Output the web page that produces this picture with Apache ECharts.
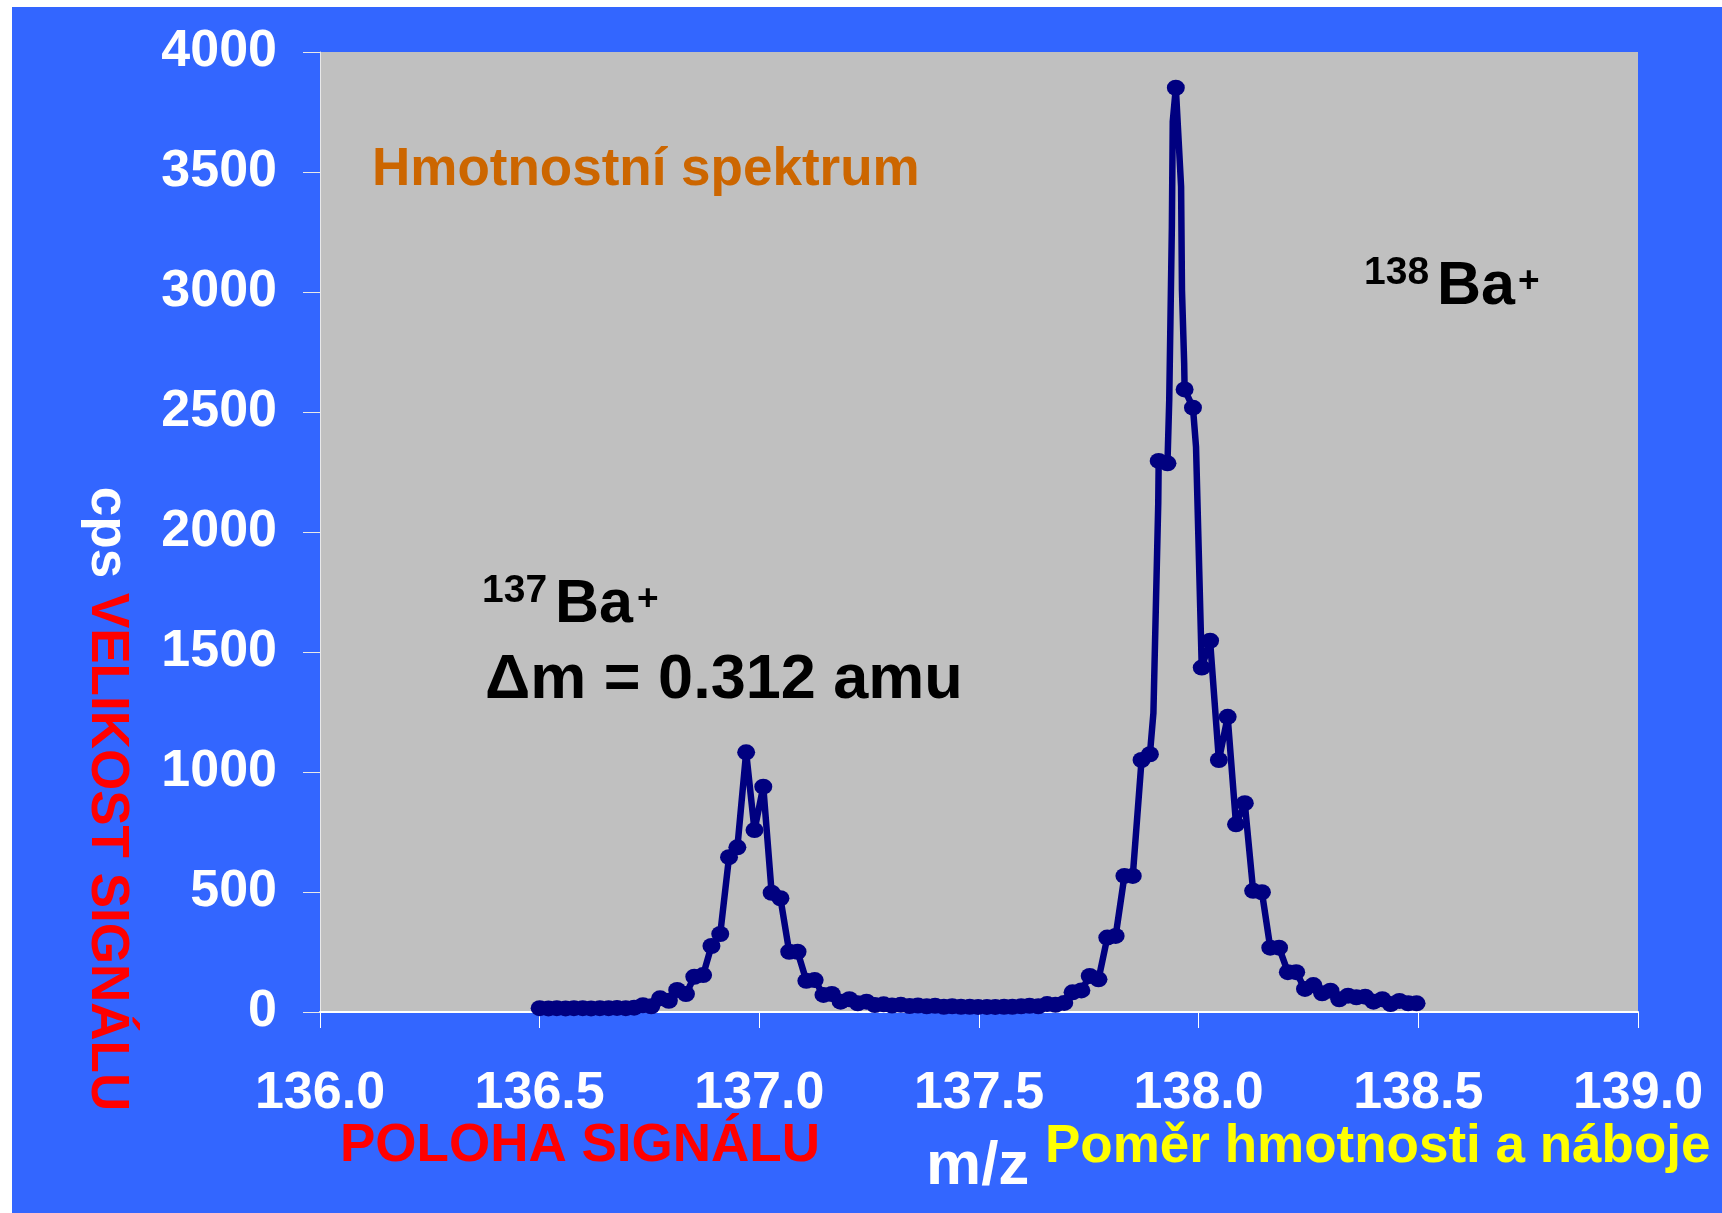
<!DOCTYPE html>
<html><head><meta charset="utf-8">
<script src="https://cdn.jsdelivr.net/npm/echarts@6/dist/echarts.min.js"></script>
<style>html,body{margin:0;padding:0;background:#fff;overflow:hidden}
#c{position:absolute;left:12px;top:7px;width:1710px;height:1206px}</style>
</head><body><div id="c"></div>
<script>
// measured points (markers): m/z and cps
const mz = [136.500,136.520,136.539,136.559,136.578,136.598,136.617,136.637,136.657,136.676,
136.696,136.715,136.735,136.754,136.774,136.794,136.813,136.833,136.852,136.872,
136.891,136.911,136.931,136.950,136.970,136.989,137.009,137.028,137.048,137.068,
137.087,137.107,137.126,137.146,137.165,137.185,137.205,137.224,137.244,137.263,
137.283,137.302,137.322,137.342,137.361,137.381,137.400,137.420,137.439,137.459,
137.479,137.498,137.518,137.537,137.557,137.576,137.596,137.615,137.635,137.655,
137.674,137.694,137.713,137.733,137.752,137.772,137.792,137.811,137.831,137.850,
137.870,137.889,137.909,137.929,137.948,137.968,137.987,138.007,138.026,138.046,
138.066,138.085,138.105,138.124,138.144,138.163,138.183,138.203,138.222,138.242,
138.261,138.281,138.300,138.320,138.340,138.359,138.379,138.398,138.418,138.437,
138.457,138.477,138.496];
const cps = [16,15,16,15,16,16,15,16,16,17,
16,18,28,24,57,47,92,75,147,154,
275,325,645,686,1082,758,939,497,474,251,
251,130,133,71,75,43,53,36,43,29,
32,27,30,25,27,24,26,22,24,22,
22,21,21,21,22,22,24,26,24,33,
30,38,82,90,150,136,310,317,567,567,
1050,1074,2296,2286,3851,2594,2518,1435,1547,1050,
1230,782,870,505,499,268,268,166,166,96,
112,78,89,53,68,61,64,43,53,33,
46,36,36];
// extra vertices of the drawn profile line (no markers)
const lineOnlyMz  = [137.897,137.908,137.933,137.939,137.941,137.960,137.962,137.967,137.994,138.005];
const lineOnlyCps = [1246,2120,2549,3272,3710,3439,3008,2704,2355,1578];
const yTicks = {min:0, max:4000, step:500};
const xTicks = {min:136, max:139, step:0.5};

const OX = 12, OY = 7;
const FF = "'Liberation Sans', Arial, sans-serif";
const markers = mz.map((x,i)=>[x,cps[i]]);
const lineData = markers.concat(lineOnlyMz.map((x,i)=>[x,lineOnlyCps[i]])).sort((a,b)=>a[0]-b[0]);

function txt(x, y, text, fs, color, extra) {
  return {
    type:'text', x:x-OX, y:y-OY, silent:true, z:100,
    style:Object.assign({text:text, fill:color, fontSize:fs, fontWeight:'bold', fontFamily:FF,
      align:'left', verticalAlign:'middle'}, extra||{})
  };
}
const shadow = {textShadowColor:'#A8A8A8', textShadowOffsetX:3, textShadowOffsetY:3, textShadowBlur:0};

const chart = echarts.init(document.getElementById('c'), null, {renderer:'canvas'});
chart.setOption({
  animation:false,
  backgroundColor:'#3366FF',
  grid:{left:320-OX, top:52-OY, width:1318, height:960, show:true, backgroundColor:'#C0C0C0', borderWidth:0, containLabel:false},
  xAxis:{type:'value', min:xTicks.min, max:xTicks.max, interval:xTicks.step,
    axisLine:{show:true, lineStyle:{color:'#FFFFFF', width:2}},
    axisTick:{show:true, inside:false, length:16, lineStyle:{color:'#FFFFFF', width:1}},
    splitLine:{show:false},
    axisLabel:{formatter:v=>v.toFixed(1), color:'#FFFFFF', fontSize:52, fontWeight:'bold', fontFamily:FF, margin:56}},
  yAxis:{type:'value', min:yTicks.min, max:yTicks.max, interval:yTicks.step,
    axisLine:{show:true, lineStyle:{color:'#E8E8E8', width:1}},
    axisTick:{show:true, inside:false, length:17, lineStyle:{color:'#E8E8E8', width:1}},
    splitLine:{show:false},
    axisLabel:{formatter:v=>String(v), color:'#FFFFFF', fontSize:52, fontWeight:'bold', fontFamily:FF, margin:43}},
  series:[
    {type:'line', data:lineData, showSymbol:false, symbol:'none', lineStyle:{color:'#000080', width:6.5}, z:3, silent:true},
    {type:'scatter', data:markers, symbol:'circle', symbolSize:[18,16], itemStyle:{color:'#000080', opacity:1}, z:4, silent:true}
  ],
  graphic:[
    txt(372, 170, 'Hmotnostní spektrum', 53, '#CC6600'),
    txt(482, 591, '137', 39, '#000000'),
    txt(555, 605.2, 'Ba', 61, '#000000'),
    txt(637, 600, '+', 37, '#000000'),
    txt(485, 681, 'Δm = 0.312 amu', 63, '#000000'),
    txt(1364, 273.2, '138', 39, '#000000'),
    txt(1437, 287.2, 'Ba', 61, '#000000'),
    txt(1518, 282, '+', 37, '#000000'),
    {type:'text', x:106.4-OX, y:799-OY, rotation:-Math.PI/2, silent:true, z:100,
      style:{text:'{w|cps} {r|VELIKOST SIGNÁLU}', align:'center', verticalAlign:'middle',
        fontSize:53, fontWeight:'bold', fontFamily:FF,
        rich:{r:Object.assign({fill:'#FF0000', fontSize:53, fontWeight:'bold', fontFamily:FF}, shadow),
              w:{fill:'#FFFFFF', fontSize:53, fontWeight:'bold', fontFamily:FF}}}},
    txt(340, 1146.5, 'POLOHA SIGNÁLU', 53, '#FF0000', shadow),
    txt(926, 1167, 'm/z', 62, '#FFFFFF'),
    txt(1045, 1147, 'Poměr hmotnosti a náboje', 53, '#FFFF00', shadow)
  ]
});
</script></body></html>
